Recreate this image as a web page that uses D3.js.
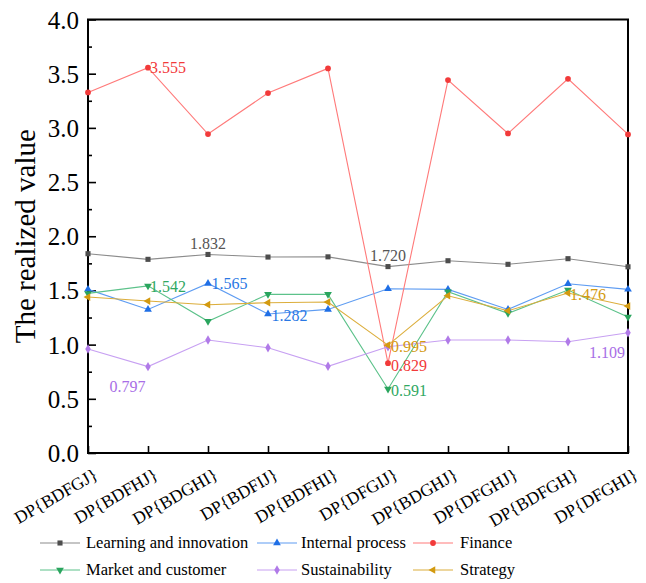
<!DOCTYPE html>
<html>
<head>
<meta charset="utf-8">
<script src="https://cdn.jsdelivr.net/npm/d3@7"></script>
<style>
  html, body { margin: 0; padding: 0; background: #fff; }
  svg { display: block; }
  svg text { font-family: "Liberation Serif", "Times New Roman", serif !important; }
</style>
</head>
<body>
<svg id="chart" width="646" height="583"></svg>
<script>
// Decision plans on the x axis
const categories = ["DP{BDFGJ}", "DP{BDFHJ}", "DP{BDGHI}", "DP{BDFIJ}", "DP{BDFHI}",
                    "DP{DFGIJ}", "DP{BDGHJ}", "DP{DFGHJ}", "DP{BDFGH}", "DP{DFGHI}"];

// Realized value per dimension
const learning    = [1.839, 1.787, 1.832, 1.808, 1.810, 1.720, 1.774, 1.741, 1.793, 1.718];
const internal    = [1.510, 1.325, 1.565, 1.282, 1.325, 1.516, 1.510, 1.325, 1.562, 1.510];
const finance     = [3.327, 3.555, 2.943, 3.321, 3.549, 0.829, 3.441, 2.949, 3.453, 2.940];
const market      = [1.473, 1.542, 1.215, 1.464, 1.464, 0.591, 1.488, 1.289, 1.504, 1.255];
const sustain     = [0.959, 0.797, 1.042, 0.971, 0.800, 0.981, 1.042, 1.042, 1.027, 1.109];
const strategy    = [1.439, 1.402, 1.368, 1.387, 1.393, 0.995, 1.451, 1.313, 1.476, 1.356];

const seriesNames = ["Learning and innovation", "Internal process", "Finance",
                     "Market and customer", "Sustainability", "Strategy"];

// Y axis ticks
const yTicks = [0.0, 0.5, 1.0, 1.5, 2.0, 2.5, 3.0, 3.5, 4.0];

// Which points carry a value label: [series index, category index]
const labelled = [[2, 1], [0, 2], [0, 5], [3, 1], [1, 2], [1, 3],
                  [5, 5], [2, 5], [3, 5], [5, 8], [4, 9], [4, 1]];

const seriesValues = [learning, internal, finance, market, sustain, strategy];

// ---- styling / layout ----
const styles = [
  { line: "#8c8c8c", mark: "#4d4d4d", text: "#555555", shape: d3.symbolSquare, size: 26, rot: 0 },
  { line: "#5e9cf2", mark: "#1f6fe6", text: "#2a78e4", shape: d3.symbolTriangle, size: 26, rot: 0 },
  { line: "#ff7a7a", mark: "#f23a3a", text: "#f23a3a", shape: d3.symbolCircle, size: 26, rot: 0 },
  { line: "#5cc28a", mark: "#2aa55e", text: "#30a862", shape: d3.symbolTriangle, size: 26, rot: 180 },
  { line: "#c7a0f2", mark: "#b07ae8", text: "#a86ee6", shape: d3.symbolDiamond, size: 26, rot: 0 },
  { line: "#dcae3c", mark: "#d39a10", text: "#d39a10", shape: d3.symbolTriangle, size: 26, rot: -90 }
];

// label offsets relative to the marker: [dx, dy(baseline), anchor]
const labelLayout = [
  [2, 5.5, "start"], [0, -5.5, "middle"], [0, -5.5, "middle"], [2, 6.5, "start"],
  [3.5, 6, "start"], [3.5, 7, "start"], [3, 7, "start"], [3, 7.5, "start"],
  [3, 7.5, "start"], [2, 7, "start"], [-3, 25, "end"], [-2.5, 25.5, "end"]
];

const svg = d3.select("#chart");
const plotLeft = 88, plotRight = 628, plotTop = 19.5, plotBottom = 453;

const x = d3.scalePoint().domain(categories).range([plotLeft, plotRight]).padding(0);
const y = d3.scaleLinear().domain([0, 4]).range([plotBottom, plotTop]);

// minor ticks (every 0.25) inside the plot
const gY = svg.append("g").attr("transform", `translate(${plotLeft},0)`);
gY.call(d3.axisLeft(y).tickValues(d3.range(0.25, 4, 0.5)).tickSizeInner(-4).tickSizeOuter(0).tickFormat(""))
  .call(g => g.select(".domain").remove())
  .call(g => g.selectAll("line").attr("stroke", "#000").attr("stroke-width", 1.6));

// major y ticks + labels
const gY2 = svg.append("g").attr("transform", `translate(${plotLeft},0)`);
gY2.call(d3.axisLeft(y).tickValues(yTicks).tickSizeInner(-8).tickSizeOuter(0).tickPadding(9).tickFormat(d3.format(".1f")))
  .call(g => g.select(".domain").remove())
  .call(g => g.selectAll("line").attr("stroke", "#000").attr("stroke-width", 1.6))
  .call(g => g.attr("font-size", 25))
  .call(g => g.selectAll("text").attr("fill", "#000").attr("x", -9).attr("dy", "0.34em"));

// x axis ticks
const gX = svg.append("g").attr("transform", `translate(0,${plotBottom})`);
gX.call(d3.axisBottom(x).tickSizeInner(-7).tickSizeOuter(0).tickFormat(""))
  .call(g => g.select(".domain").remove())
  .call(g => g.selectAll("line").attr("stroke", "#000").attr("stroke-width", 1.6));

// rotated category labels
svg.append("g").selectAll("text").data(categories).join("text")
  .attr("transform", d => `translate(${x(d) + 11},${plotBottom + 25}) rotate(-30)`)
  .attr("text-anchor", "end")
  .attr("font-size", 17.5)
  .attr("fill", "#000")
  .text(d => d);

// frame
svg.append("rect")
  .attr("x", plotLeft).attr("y", plotTop)
  .attr("width", plotRight - plotLeft).attr("height", plotBottom - plotTop)
  .attr("fill", "none").attr("stroke", "#000").attr("stroke-width", 2);

// axis title
svg.append("text")
  .attr("transform", `translate(35,${(plotTop + plotBottom) / 2}) rotate(-90)`)
  .attr("text-anchor", "middle")
  .attr("font-size", 29)
  .attr("fill", "#000")
  .text("The realized value");

// series lines
const line = d3.line().x((d, i) => x(categories[i])).y(d => y(d));
const plot = svg.append("g");
seriesValues.forEach((vals, s) => {
  plot.append("path")
    .attr("d", line(vals))
    .attr("fill", "none")
    .attr("stroke", styles[s].line)
    .attr("stroke-width", 1.1);
});

// markers
function marker(g, s, cx, cy) {
  const st = styles[s];
  g.append("path")
    .attr("d", d3.symbol().type(st.shape).size(st.size)())
    .attr("transform", `translate(${cx},${cy}) rotate(${st.rot})`)
    .attr("fill", st.mark);
}
seriesValues.forEach((vals, s) => {
  vals.forEach((v, i) => marker(plot, s, x(categories[i]), y(v)));
});

// value labels
labelled.forEach(([s, i], k) => {
  const [dx, dy, anchor] = labelLayout[k];
  const v = seriesValues[s][i];
  svg.append("text")
    .attr("x", x(categories[i]) + dx)
    .attr("y", y(v) + dy)
    .attr("text-anchor", anchor)
    .attr("font-size", 16)
    .attr("fill", styles[s].text)
    .text(d3.format(".3f")(v));
});

// legend: two rows of three
const legendCols = [[40, 86], [257, 301], [413, 460]];
const legendRows = [543, 570];
seriesNames.forEach((name, s) => {
  const [lx, tx] = legendCols[s % 3];
  const ly = legendRows[Math.floor(s / 3)];
  const g = svg.append("g");
  g.append("line")
    .attr("x1", lx).attr("x2", lx + 40)
    .attr("y1", ly).attr("y2", ly)
    .attr("stroke", styles[s].line).attr("stroke-width", 1.1);
  marker(g, s, lx + 20, ly);
  g.append("text")
    .attr("x", tx).attr("y", ly)
    .attr("dy", "0.33em")
    .attr("font-size", 16.5)
    .attr("fill", "#000")
    .text(name);
});
</script>
</body>
</html>
